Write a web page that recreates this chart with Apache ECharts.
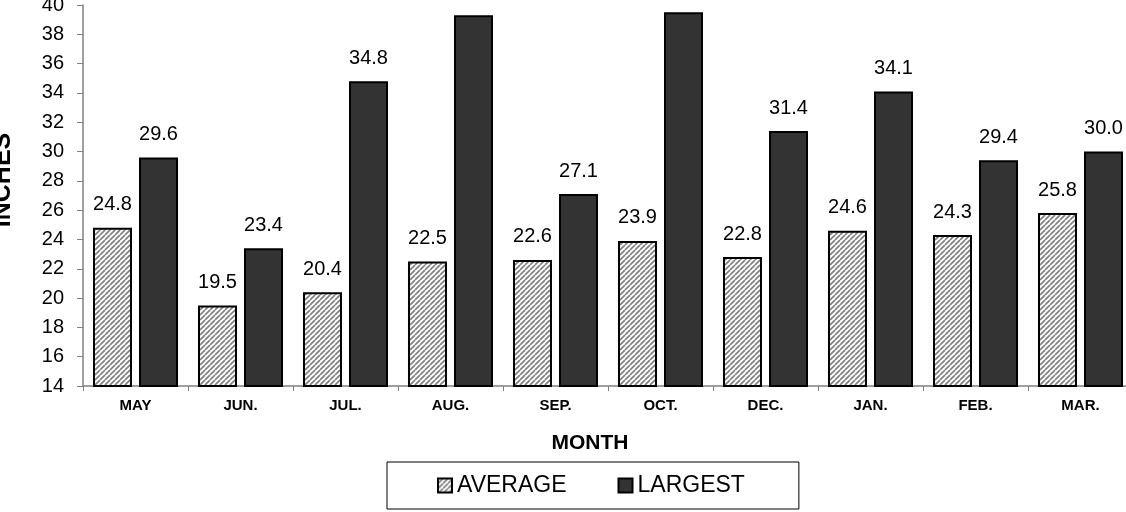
<!DOCTYPE html>
<html><head><meta charset="utf-8">
<script src="https://cdn.jsdelivr.net/npm/echarts@6/dist/echarts.min.js"></script>
<style>html,body{margin:0;padding:0;background:#fff}#c{width:1126px;height:512px}</style>
</head><body><div id="c"></div>
<script>
const categories = ['MAY','JUN.','JUL.','AUG.','SEP.','OCT.','DEC.','JAN.','FEB.','MAR.'];
const averageValues = [24.8,19.5,20.4,22.5,22.6,23.9,22.8,24.6,24.3,25.8];
const largestValues = [29.6,23.4,34.8,39.3,27.1,39.5,31.4,34.1,29.4,30.0];
const yTicks = {min:14, max:40, interval:2};

function hatch(){
  const c = document.createElement('canvas');
  c.width = 5; c.height = 5;
  const g = c.getContext('2d');
  g.fillStyle = '#ffffff'; g.fillRect(0,0,5,5);
  g.strokeStyle = '#808080'; g.lineWidth = 1.7;
  for (let k=-5;k<=10;k+=5){
    g.beginPath(); g.moveTo(k,5); g.lineTo(k+5,0); g.stroke();
  }
  return c;
}
const pat = {image: hatch(), repeat:'repeat'};
const font = 'Liberation Sans, Arial, sans-serif';
const chart = echarts.init(document.getElementById('c'), null, {renderer:'canvas'});
chart.setOption({
  animation:false,
  textStyle:{fontFamily:font},
  grid:{left:83, right:-7, top:5, bottom:126, containLabel:false, outerBoundsMode:'none'},
  graphic:[
    {type:'text', x:3, y:180, rotation:Math.PI/2,
     style:{text:'INCHES', font:'bold 25px '+font, fill:'#000', align:'center', verticalAlign:'middle'}},
    {type:'text', x:590, y:443,
     style:{text:'MONTH', font:'bold 21px '+font, fill:'#000', align:'center', verticalAlign:'middle'}}
  ],
  legend:{
    left:387, top:462, itemGap:51,
    padding:[11,54,11,50],
    borderColor:'#000', borderWidth:1,
    itemWidth:14, itemHeight:14,
    textStyle:{fontFamily:font, fontSize:23, lineHeight:25, color:'#000'},
    data:[{name:'AVERAGE', icon:'rect', itemStyle:{color:pat, borderColor:'#000', borderWidth:2}},
          {name:'LARGEST', icon:'rect', itemStyle:{color:'#333333', borderColor:'#000', borderWidth:2}}]
  },
  xAxis:{
    type:'category', data:categories,
    axisLine:{lineStyle:{color:'#808080', width:1.5}},
    axisTick:{show:true, length:5, inside:false, lineStyle:{color:'#808080'}},
    axisLabel:{fontFamily:font, fontWeight:'bold', fontSize:15, color:'#000', margin:12}
  },
  yAxis:{
    type:'value', min:yTicks.min, max:yTicks.max, interval:yTicks.interval,
    axisLine:{show:true, lineStyle:{color:'#808080', width:1.5}},
    axisTick:{show:true, length:6, lineStyle:{color:'#808080'}},
    axisLabel:{fontFamily:font, fontSize:20, color:'#000', margin:19},
    splitLine:{show:false}
  },
  series:[
    {name:'AVERAGE', type:'bar', data:averageValues, barWidth:39, barGap:'18%',
     itemStyle:{color:pat, borderColor:'#000', borderWidth:2},
     label:{show:true, position:'top', distance:13, fontFamily:font, fontSize:20, color:'#000',
            formatter:p=>p.value.toFixed(1)}},
    {name:'LARGEST', type:'bar', data:largestValues, barWidth:39,
     itemStyle:{color:'#333333', borderColor:'#000', borderWidth:2},
     label:{show:true, position:'top', distance:13, fontFamily:font, fontSize:20, color:'#000',
            formatter:p=>p.value.toFixed(1)}}
  ]
});
</script></body></html>
